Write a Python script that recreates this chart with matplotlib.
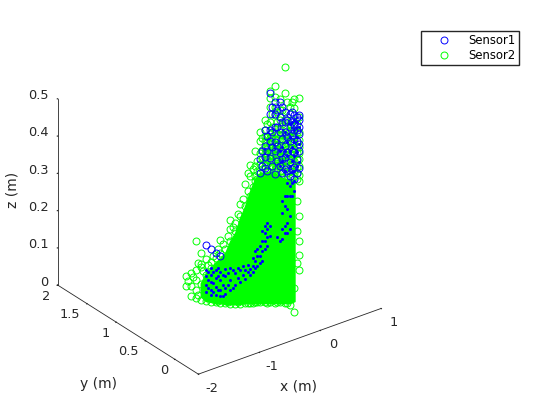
import matplotlib
matplotlib.use("Agg")
import matplotlib.pyplot as plt
from matplotlib.lines import Line2D
from mpl_toolkits.mplot3d import proj3d
from mpl_toolkits.mplot3d.art3d import Poly3DCollection

# Points are grouped in columns sharing x and y
column_x = [-0.946, -0.903, -0.860, -0.818, -0.775, -0.732, -0.690, -0.647, -0.604, -0.562, -0.519, -0.476, -0.434,
            -0.391, -0.349, -0.306, -0.263, -0.221, -0.178, -0.135, -0.093, -0.050, -0.007, 0.035]
column_y = [0.908, 0.868, 0.829, 0.788, 0.748, 0.709, 0.669, 0.630, 0.589, 0.549, 0.510, 0.470, 0.429,
            0.390, 0.350, 0.310, 0.270, 0.230, 0.190, 0.151, 0.110, 0.070, 0.031, -0.009]

half_x = [-0.925, -0.882, -0.839, -0.797, -0.754, -0.711, -0.669, -0.626, -0.583, -0.541, -0.498, -0.455,
          -0.413, -0.370, -0.327, -0.285, -0.242, -0.200, -0.157, -0.114, -0.072, -0.029, 0.014]
half_y = [0.888, 0.849, 0.809, 0.768, 0.729, 0.689, 0.650, 0.610, 0.569, 0.530, 0.490, 0.450,
          0.410, 0.370, 0.330, 0.290, 0.250, 0.210, 0.170, 0.130, 0.090, 0.050, 0.011]

# Sensor2, sparse outer points
sensor2_z = [
    [.044, .071],
    [.019, .045, .082],
    [.015, .036, .062, .089, .169],
    [.011, .053, .109, .138, .101],
    [.010, .079, .124],
    [.009, .099, .115],
    [.010, .127],
    [.009, .144, .179],
    [.010, .156],
    [.009, .179, .235, .211],
    [.010, .207, .229],
    [.012, .249, .281],
    [.016, .277, .335],
    [.017, .305, .358, .387],
    [.022, .346, .359, .386, .426],
    [.023, .369, .393, .422, .454, .480],
    [.024, .389, .415, .437, .458, .487, .514, .400, .425, .470],
    [.026, .404, .430, .451, .478, .510, .550, .574, .592, .392, .418, .465],
    [.025, .384, .410, .437, .466, .493, .530, .551, .578, .607, .396, .423, .452, .480],
    [.029, .380, .406, .433, .460, .492, .518, .545, .574, .393, .420, .447, .476],
    [.028, .395, .421, .448, .480, .520, .592, .661, .408, .435, .465, .500],
    [.024, .069, .383, .415, .447, .476, .510, .556, .399, .431, .461, .492],
    [.006, .070, .379, .411, .443, .475, .506, .554, .578, .395, .427, .459, .490],
    [.266, .200, .160, .120, .359, .418, .452, .492, .532, .583, .375, .400, .435, .470],
]

sensor2_half_z = [
    [.058],
    [.070],
    [.023, .111],
    [.091],
    [.106],
    [.134],
    [.013, .154],
    [.169],
    [.014, .192],
    [.217],
    [.016, .253],
    [.295],
    [.017, .317, .365],
    [.018, .329, .377],
    [.022, .352, .373, .400],
    [.354, .380, .407, .433, .465],
    [.022, .363, .395, .424, .446, .467, .504, .379, .410, .435],
    [.356, .391, .418, .442, .471, .497, .532, .373, .405, .430, .457],
    [.028, .353, .377, .401, .425, .451, .480, .512, .539, .365, .389, .413, .438, .465],
    [.365, .394, .421, .450, .482, .508, .546, .380, .408, .436, .466],
    [.028, .361, .393, .425, .457, .489, .529, .568, .377, .409, .441, .473],
    [.368, .400, .431, .463, .495, .522, .570, .384, .416, .447, .479],
    [.364, .396, .433, .465, .513, .305, .225, .140, .380, .415, .449, .490],
]

# Sensor1, points that stay visible outside the green mass
sensor1_z = [
    [], [], [], [],
    [.159], [.152], [.143], [.134],
    [], [], [], [], [], [], [],
    [.406, .369],
    [.442, .384, .487, .415],
    [.412, .489, .587, .457, .531],
    [.458, .533, .371, .565, .498, .432],
    [.428, .486, .526, .393, .566],
    [.541, .488, .387, .448, .514, .421],
    [.409, .502, .463, .537, .369],
    [.509, .472, .536, .437, .397, .363, .496],
    [.537, .524, .487, .439, .394, .460, .505],
]

sensor1_half_z = [
    [], [], [], [], [], [], [], [], [], [], [], [], [], [], [],
    [.428, .388],
    [.470, .430, .376],
    [.551, .484, .444, .391],
    [.544, .499, .446, .406],
    [.554, .514, .466, .413, .375],
    [.521, .475, .435, .382],
    [.543, .517, .482, .437, .389],
    [.531, .497, .465, .417, .380],
]

# Sensor1, bits showing through the dense part
sensor1_core_z = [
    [], [], [], [],
    [.092, .076, .052, .034],
    [.099, .080, .062, .040, .027],
    [.095, .074, .050, .028],
    [.091, .070, .043, .027],
    [.103, .082, .050, .034],
    [.105, .073, .046],
    [.095, .061],
    [.102, .070],
    [.104, .082],
    [.110, .092],
    [.133, .112, .160],
    [.174, .148, .129],
    [.229, .211, .189, .168],
    [.231, .204],
    [],
    [.194, .433, .393],
    [.235, .216, .288, .315, .488, .435, .381],
    [.343, .316, .263, .228, .510, .476, .436, .396],
    [.358, .331, .522, .496, .464, .424, .384],
    [.505, .460, .412],
]

sensor1_core_half_z = [
    [], [], [], [],
    [.088, .066, .045],
    [.089, .060, .036],
    [.101, .080, .043],
    [.084, .057, .028],
    [.093, .059],
    [.100, .052],
    [.107, .080],
    [.114, .090],
    [.118, .099],
    [.138, .119, .101],
    [.166, .145, .118],
    [.215, .189, .162, .135],
    [.238, .222, .201, .177],
    [],
    [.204],
    [.200, .226, .269, .301, .447, .407],
    [.217, .244, .281, .316, .350, .462, .422],
    [.317, .352, .383, .516, .450, .410],
    [.518, .478, .438, .398],
]

# Dense Sensor2 mass, lower and upper z per column (columns 3 to 22)
core_low = [.021, .010, .009, .007, .009, .007, .009, .010, .012, .016,
            .017, .019, .020, .022, .023, .025, .026, .028, .029, .036]
core_high = [.056, .084, .099, .116, .129, .146, .179, .202, .243, .277,
             .318, .352, .369, .371, .377, .373, .366, .361, .362, .362]

x_ticks = [-2, -1, 0, 1]
y_ticks = [0, 0.5, 1, 1.5, 2]
z_ticks = [0, 0.1, 0.2, 0.3, 0.4, 0.5]
x_tick_labels = ["-2", "-1", "0", "1"]
y_tick_labels = ["0", "0.5", "1", "1.5", "2"]
z_tick_labels = ["0", "0.1", "0.2", "0.3", "0.4", "0.5"]


def expand(col_x, col_y, z_columns):
    xs, ys, zs = [], [], []
    for cx, cy, col in zip(col_x, col_y, z_columns):
        for z in col:
            xs.append(cx)
            ys.append(cy)
            zs.append(z)
    return xs, ys, zs


def rings(col_z, half_z, color, zorder):
    xs, ys, zs = expand(column_x, column_y, col_z)
    xs2, ys2, zs2 = expand(half_x, half_y, half_z)
    ax.plot(xs + xs2, ys + ys2, zs + zs2, linestyle="none", marker="o", ms=5.0, mfc="none",
            mec=color, mew=0.7, zorder=zorder)


def tick_label(x, y, z, label, dx, dy, ha):
    # project the tick position, then place the label in 2D with a pixel offset
    px, py, _ = proj3d.proj_transform(x, y, z, ax.get_proj())
    ax.annotate(label, xy=(px, py), xytext=(dx, dy), textcoords="offset pixels", ha=ha, va="center",
                fontsize=9.3, color=text_color)


text_color = "#262626"

fig = plt.figure(figsize=(5.6, 4.2), dpi=100)
ax = fig.add_axes([14 / 560, 11 / 420, 400 / 560, 400 / 420], projection="3d", proj_type="ortho")
ax.computed_zorder = False
ax.view_init(elev=28.5, azim=-127)
ax.set_box_aspect((233, 238, 216), zoom=0.946)

core_verts = list(zip(column_x[3:23], column_y[3:23], core_low)) + \
    list(zip(column_x[3:23], column_y[3:23], core_high))[::-1]
ax.add_collection3d(Poly3DCollection([core_verts], facecolor="#00ff00", edgecolor="#00ff00", zorder=1))

rings(sensor2_z, sensor2_half_z, "#00ff00", 3)
rings(sensor1_z, sensor1_half_z, "blue", 4)

xs, ys, zs = expand(column_x, column_y, sensor1_core_z)
xs2, ys2, zs2 = expand(half_x, half_y, sensor1_core_half_z)
ax.plot(xs + xs2, ys + ys2, zs + zs2, linestyle="none", marker="o", ms=2.2, color="blue", mew=0, zorder=5)

ax.set_xlim(-2, 1, view_margin=0)
ax.set_ylim(-0.4, 2, view_margin=0)
ax.set_zlim(0, 0.5, view_margin=0)
ax.set_xticks(x_ticks)
ax.set_yticks(y_ticks)
ax.set_zticks(z_ticks)
ax.grid(False)
for axis in (ax.xaxis, ax.yaxis, ax.zaxis):
    axis.set_pane_color((1, 1, 1, 0))
    axis.pane.set_edgecolor((1, 1, 1, 0))
    axis.line.set_linewidth(0.6)
    axis.line.set_color(text_color)
    axis._axinfo["tick"]["inward_factor"] = 0.03
    axis._axinfo["tick"]["outward_factor"] = 0.0
    axis.set_tick_params(color=text_color, width=0.5)
    axis.set_ticklabels([])

for t, label in zip(x_ticks, x_tick_labels):
    tick_label(t, -0.4, 0, label, 13, -14, "center")
for t, label in zip(y_ticks, y_tick_labels):
    tick_label(-2, t, 0, label, -7, -11, "right")
for t, label in zip(z_ticks, z_tick_labels):
    tick_label(-2, 2, t, label, -9, 3, "right")

fig.text(298 / 560, 1 - 387 / 420, "x (m)", ha="center", va="center", fontsize=10, color=text_color)
fig.text(98 / 560, 1 - 384 / 420, "y (m)", ha="center", va="center", fontsize=10, color=text_color)
fig.text(12 / 560, 1 - 190 / 420, "z (m)", ha="center", va="center", rotation=90, fontsize=10, color=text_color)

handles = [
    Line2D([], [], linestyle="none", marker="o", ms=5.0, mfc="none", mec="blue", mew=0.7, label="Sensor1"),
    Line2D([], [], linestyle="none", marker="o", ms=5.0, mfc="none", mec="#00ff00", mew=0.7, label="Sensor2"),
]
fig.legend(handles=handles, loc="upper left", bbox_to_anchor=(421 / 560, 1 - 31 / 420), fontsize=8.4,
           fancybox=False, framealpha=1, edgecolor=text_color, borderaxespad=0, labelspacing=0.1,
           handlelength=3.4, handletextpad=0.33, borderpad=0.3)

fig.savefig("out.png", dpi=100)
